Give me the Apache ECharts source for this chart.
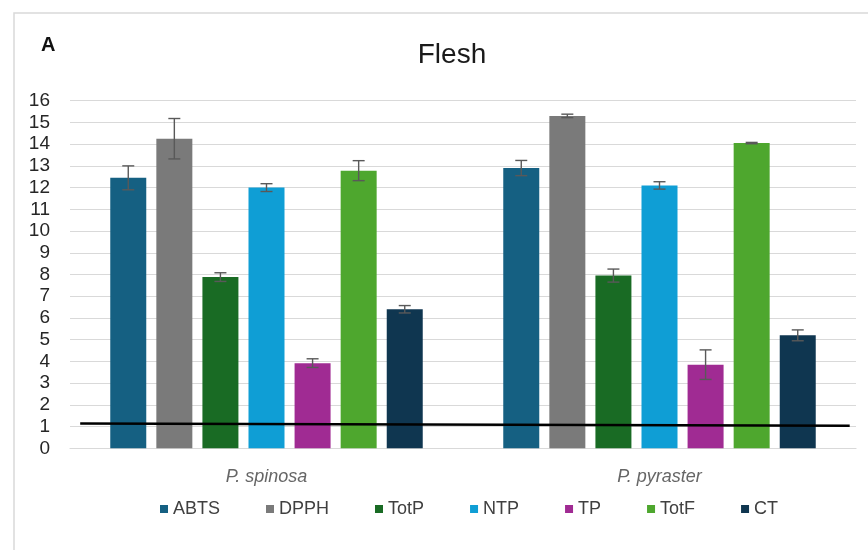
<!DOCTYPE html>
<html>
<head>
<meta charset="utf-8">
<title>Flesh</title>
<script src="https://cdn.jsdelivr.net/npm/echarts@6/dist/echarts.min.js"></script>
<style>
  html, body { margin: 0; padding: 0; background: #ffffff; }
  #chart { width: 868px; height: 550px; }
</style>
</head>
<body>
<div id="chart"></div>
<script>
// Species (x categories)
const categories = ['P. spinosa', 'P. pyraster'];

// Assay names, in legend / bar order
const seriesNames = ['ABTS', 'DPPH', 'TotP', 'NTP', 'TP', 'TotF', 'CT'];

// Means per species
const ABTS = [12.45, 12.9];
const DPPH = [14.25, 15.3];
const TotP = [7.88, 7.95];
const NTP  = [12.0, 12.1];
const TP   = [3.92, 3.85];
const TotF = [12.78, 14.05];
const CT   = [6.4, 5.2];

// Standard deviations per species
const ABTS_SD = [0.55, 0.35];
const DPPH_SD = [0.93, 0.08];
const TotP_SD = [0.2, 0.3];
const NTP_SD  = [0.18, 0.17];
const TP_SD   = [0.2, 0.68];
const TotF_SD = [0.46, 0.03];
const CT_SD   = [0.17, 0.25];

// Y axis ticks
const yTicks = [0, 1, 2, 3, 4, 5, 6, 7, 8, 9, 10, 11, 12, 13, 14, 15, 16];

// Reference line (x as fraction of plot width, y in axis units)
const refLineX = [0.013, 0.992];
const refLineY = [1.14, 1.04];

const means = [ABTS, DPPH, TotP, NTP, TP, TotF, CT];
const sds = [ABTS_SD, DPPH_SD, TotP_SD, NTP_SD, TP_SD, TotF_SD, CT_SD];
const colors = ['#156082', '#7a7a7a', '#196b24', '#0f9ed5', '#a02b93', '#4ea72e', '#0f3650'];

const BAR_W = 36;
const BAR_GAP = 0.28;
const STEP = BAR_W * (1 + BAR_GAP);
const FONT = '"Liberation Sans", Arial, sans-serif';

function errorRenderer(k, count) {
  return function (params, api) {
    const cat = api.value(0);
    const top = api.coord([cat, api.value(2)]);
    const bot = api.coord([cat, api.value(1)]);
    const x = top[0] + (k - (count - 1) / 2) * STEP;
    const half = 6;
    const style = { stroke: '#595959', lineWidth: 1.4 };
    return {
      type: 'group',
      children: [
        { type: 'line', shape: { x1: x, y1: top[1], x2: x, y2: bot[1] }, style: style },
        { type: 'line', shape: { x1: x - half, y1: top[1], x2: x + half, y2: top[1] }, style: style },
        { type: 'line', shape: { x1: x - half, y1: bot[1], x2: x + half, y2: bot[1] }, style: style }
      ]
    };
  };
}

const series = [];
seriesNames.forEach(function (name, k) {
  series.push({
    name: name,
    type: 'bar',
    data: means[k],
    barWidth: BAR_W,
    barGap: (BAR_GAP * 100) + '%',
    itemStyle: { color: colors[k] },
    z: 2
  });
});
seriesNames.forEach(function (name, k) {
  series.push({
    name: name + ' SD',
    type: 'custom',
    renderItem: errorRenderer(k, seriesNames.length),
    data: categories.map(function (c, i) {
      return [i, means[k][i] - sds[k][i], means[k][i] + sds[k][i]];
    }),
    encode: { x: 0, y: [1, 2] },
    z: 4,
    silent: true
  });
});
series.push({
  name: 'reference',
  type: 'line',
  xAxisIndex: 1,
  data: refLineX.map(function (x, i) { return [x, refLineY[i]]; }),
  symbol: 'none',
  lineStyle: { color: '#000000', width: 2.6 },
  z: 6,
  silent: true
});

const chart = echarts.init(document.getElementById('chart'), null, { renderer: 'canvas' });
chart.setOption({
  backgroundColor: '#ffffff',
  animation: false,
  title: {
    text: 'Flesh',
    left: 447,
    top: 36,
    textAlign: 'center',
    textStyle: { fontFamily: FONT, fontSize: 28, fontWeight: 'normal', color: '#1a1a1a' }
  },
  graphic: [
    {
      type: 'rect',
      shape: { x: 14, y: 13, width: 900, height: 600 },
      style: { fill: 'none', stroke: '#d9d9d9', lineWidth: 1.5 },
      silent: true
    },
    {
      type: 'text',
      left: 41,
      top: 35,
      style: { text: 'A', font: 'bold 20px ' + FONT, fill: '#111111' }
    }
  ],
  legend: {
    data: seriesNames,
    left: 155,
    top: 495,
    icon: 'rect',
    itemWidth: 8,
    itemHeight: 8,
    itemGap: 46,
    textStyle: { fontFamily: FONT, fontSize: 18, color: '#404040' }
  },
  grid: { left: 70, right: 12, top: 100.7, bottom: 101.7, containLabel: false },
  xAxis: [
    {
      type: 'category',
      data: categories,
      axisLine: { lineStyle: { color: '#d9d9d9', width: 1.2 } },
      axisTick: { show: false },
      axisLabel: {
        margin: 20,
        fontFamily: FONT,
        fontSize: 18,
        fontStyle: 'italic',
        color: '#666666'
      }
    },
    { type: 'value', min: 0, max: 1, show: false }
  ],
  yAxis: {
    type: 'value',
    min: yTicks[0],
    max: yTicks[yTicks.length - 1],
    interval: 1,
    axisLine: { show: false },
    axisTick: { show: false },
    axisLabel: { margin: 20, fontFamily: FONT, fontSize: 19, color: '#262626' },
    splitLine: { lineStyle: { color: '#d9d9d9', width: 1.2 } }
  },
  series: series
});
</script>
</body>
</html>
